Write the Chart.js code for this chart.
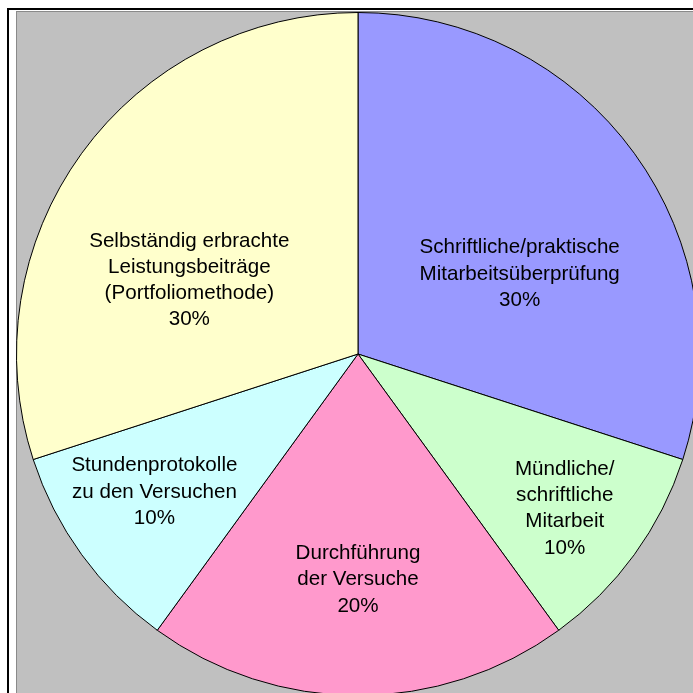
<!DOCTYPE html>
<html>
<head>
<meta charset="utf-8">
<script src="https://cdn.jsdelivr.net/npm/chart.js@4"></script>
<style>
  html, body { margin: 0; padding: 0; background: #ffffff; overflow: hidden; width: 693px; height: 693px; }
  .frame { position: absolute; left: 7px; top: 8px; width: 720px; height: 720px;
           border-left: 2px solid #000; border-top: 2px solid #000; }
  .plot { position: absolute; left: 16px; top: 11px; width: 720px; height: 720px;
          background: #c0c0c0; border-left: 1px solid #8a8a8a; border-top: 1px solid #8a8a8a; box-sizing: border-box; }
  #wrap { position: absolute; left: 0; top: 0; width: 700px; height: 696px; }
</style>
</head>
<body>
<div class="frame"></div>
<div class="plot"></div>
<div id="wrap"><canvas id="pie" width="700" height="696"></canvas></div>
<script>
// Bewertungsanteile (clockwise from the top)
const categories = [
  'Schriftliche/praktische\nMitarbeitsüberprüfung',
  'Mündliche/\nschriftliche\nMitarbeit',
  'Durchführung\nder Versuche',
  'Stundenprotokolle\nzu den Versuchen',
  'Selbständig erbrachte\nLeistungsbeiträge\n(Portfoliomethode)'
];
const shares = [30, 10, 20, 10, 30];
const sliceColors = ['#9999ff', '#ccffcc', '#ff99cc', '#ccffff', '#ffffcc'];

// label placement inside each slice: fraction of radius and angular nudge (degrees)
const labelRadius = [0.528, 0.756, 0.661, 0.720, 0.539];
const labelShift = [9.7, 0.8, 0, 1.9, -12.4];

const sliceLabels = {
  id: 'sliceLabels',
  afterDatasetsDraw(chart) {
    const ctx = chart.ctx;
    const meta = chart.getDatasetMeta(0);
    const data = chart.data.datasets[0].data;
    const total = data.reduce((a, b) => a + b, 0);
    ctx.save();
    ctx.font = '20.6px "Liberation Sans", Arial, sans-serif';
    ctx.fillStyle = '#000';
    ctx.textAlign = 'center';
    ctx.textBaseline = 'middle';
    const lineH = 26.3;
    meta.data.forEach((arc, i) => {
      const p = arc.getProps(['x', 'y', 'startAngle', 'endAngle', 'outerRadius'], true);
      const mid = (p.startAngle + p.endAngle) / 2 + labelShift[i] * Math.PI / 180;
      const r = p.outerRadius * labelRadius[i];
      const cx = p.x + Math.cos(mid) * r;
      const cy = p.y + Math.sin(mid) * r;
      const lines = chart.data.labels[i].split('\n');
      lines.push(Math.round(data[i] / total * 100) + '%');
      const y0 = cy - (lines.length - 1) * lineH / 2;
      lines.forEach((t, k) => ctx.fillText(t, cx, y0 + k * lineH));
    });
    ctx.restore();
  }
};

new Chart(document.getElementById('pie'), {
  type: 'pie',
  data: {
    labels: categories,
    datasets: [{
      data: shares,
      backgroundColor: sliceColors,
      borderColor: '#000000',
      borderWidth: 1
    }]
  },
  options: {
    responsive: false,
    devicePixelRatio: 1,
    animation: false,
    layout: { padding: { left: 16, top: 12, right: 0, bottom: 0 } },
    plugins: {
      legend: { display: false },
      tooltip: { enabled: false }
    }
  },
  plugins: [sliceLabels]
});
</script>
</body>
</html>
